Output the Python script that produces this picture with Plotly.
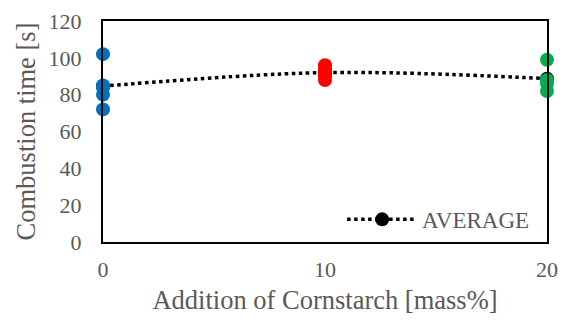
import plotly.graph_objects as go

x0_vals = [0, 0, 0, 0, 0]
y0_vals = [102, 85, 84, 80, 72]
x10_vals = [10, 10, 10, 10, 10]
y10_vals = [96, 94, 92, 90, 88]
x20_vals = [20, 20, 20, 20]
y20_vals = [99, 88, 86, 82]
avg_x = [0, 10, 20]
avg_y = [84.6, 92, 88.7]

font_color = "#595959"
serif = "Liberation Serif, Times New Roman, serif"

fig = go.Figure()
fig.add_trace(go.Scatter(x=avg_x, y=avg_y, mode="lines+markers", name="AVERAGE",
                         line=dict(color="black", width=3.5, dash="dot", shape="spline"),
                         marker=dict(color="black", size=14), cliponaxis=False))
fig.add_trace(go.Scatter(x=x0_vals, y=y0_vals, mode="markers",
                         marker=dict(color="#0070C0", size=14), showlegend=False, cliponaxis=False))
fig.add_trace(go.Scatter(x=x10_vals, y=y10_vals, mode="markers",
                         marker=dict(color="#FF0000", size=14), showlegend=False, cliponaxis=False))
fig.add_trace(go.Scatter(x=x20_vals, y=y20_vals, mode="markers",
                         marker=dict(color="#00B050", size=14), showlegend=False, cliponaxis=False))

fig.update_layout(
    width=563, height=314,
    margin=dict(l=95, r=24, t=13, b=80, autoexpand=False),
    plot_bgcolor="white", paper_bgcolor="white",
    font=dict(family=serif, color=font_color, size=22),
    legend=dict(x=0.971, y=0.005, xanchor="right", yanchor="bottom",
                bgcolor="rgba(0,0,0,0)", font=dict(size=23, color=font_color, family=serif),
                itemwidth=70),
    xaxis=dict(range=[0, 20], tickvals=[0, 10, 20], showgrid=False, zeroline=False,
               showline=True, linecolor="black", linewidth=2, mirror=True, automargin=False,
               ticks="", ticklabelstandoff=7, ticklabeloverflow="allow",
               title=dict(text="Addition of Cornstarch [mass%]", font=dict(size=26.5, color=font_color), standoff=9)),
    yaxis=dict(range=[0, 120], tickvals=[0, 20, 40, 60, 80, 100, 120], showgrid=False, zeroline=False,
               showline=True, linecolor="black", linewidth=2, mirror=True, automargin=False,
               ticks="", ticklabelstandoff=15, ticklabeloverflow="allow",
               title=dict(text="Combustion time [s]", font=dict(size=26.5, color=font_color), standoff=5)),
)

fig.write_html("out.html")
